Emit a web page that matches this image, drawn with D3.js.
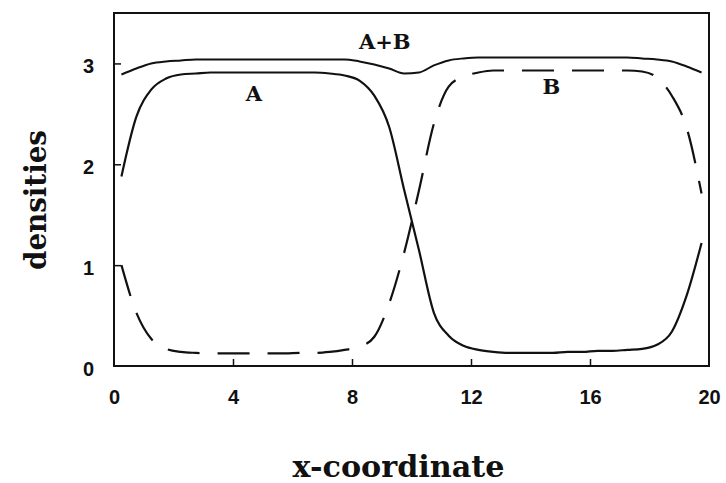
<!DOCTYPE html>
<html>
<head>
<meta charset="utf-8">
<script src="https://cdn.jsdelivr.net/npm/d3@7/dist/d3.min.js"></script>
<style>
  html, body { margin: 0; padding: 0; background: #fff; }
  svg { display: block; }
</style>
</head>
<body>
<svg id="chart" width="726" height="483"></svg>
<script>
// Sample positions along the domain (cell centres)
const xs = [0.25, 0.75, 1.25, 1.75, 2.25, 2.75, 3.25, 3.75, 4.25, 4.75,
            5.25, 5.75, 6.25, 6.75, 7.25, 7.75, 8.25, 8.75, 9.25, 9.75,
            10.25, 10.75, 11.25, 11.75, 12.25, 12.75, 13.25, 13.75, 14.25, 14.75,
            15.25, 15.75, 16.25, 16.75, 17.25, 17.75, 18.25, 18.75, 19.25, 19.75];

// Density of species A (solid)
const densityA = [1.88, 2.47, 2.74, 2.85, 2.89, 2.90, 2.91, 2.91, 2.91, 2.91,
                  2.91, 2.91, 2.91, 2.91, 2.90, 2.88, 2.83, 2.68, 2.37, 1.75,
                  1.15, 0.53, 0.30, 0.20, 0.16, 0.14, 0.13, 0.13, 0.13, 0.13,
                  0.14, 0.14, 0.15, 0.15, 0.16, 0.17, 0.21, 0.34, 0.70, 1.22];

// Density of species B (dashed)
const densityB = [1.00, 0.53, 0.27, 0.17, 0.14, 0.13, 0.125, 0.125, 0.125, 0.125,
                  0.125, 0.125, 0.13, 0.13, 0.14, 0.16, 0.19, 0.29, 0.62, 1.12,
                  1.74, 2.40, 2.77, 2.87, 2.91, 2.93, 2.93, 2.93, 2.93, 2.93,
                  2.93, 2.93, 2.93, 2.93, 2.93, 2.92, 2.86, 2.68, 2.36, 1.71];

// Total density A+B (solid)
const densityTotal = [2.89, 2.95, 3.00, 3.02, 3.03, 3.04, 3.04, 3.04, 3.04, 3.04,
                      3.04, 3.04, 3.04, 3.04, 3.04, 3.04, 3.02, 2.99, 2.95, 2.90,
                      2.91, 2.98, 3.03, 3.05, 3.06, 3.06, 3.06, 3.06, 3.06, 3.06,
                      3.06, 3.06, 3.06, 3.06, 3.06, 3.05, 3.04, 3.02, 2.97, 2.91];

const xTicks = [0, 4, 8, 12, 16, 20];
const yTicks = [0, 1, 2, 3];

const curveLabels = [
  { text: "A+B", x: 9.1, y: 3.22 },
  { text: "A",   x: 4.7, y: 2.70 },
  { text: "B",   x: 14.7, y: 2.77 }
];

const ink = "#111";
const svg = d3.select("#chart");

const plot = { left: 114, right: 709, top: 13, bottom: 366 };

const x = d3.scaleLinear().domain([0, 20]).range([plot.left, plot.right]);
const y = d3.scaleLinear().domain([0, 3.5]).range([plot.bottom, plot.top]);

// Frame
svg.append("rect")
  .attr("x", plot.left).attr("y", plot.top)
  .attr("width", plot.right - plot.left).attr("height", plot.bottom - plot.top)
  .attr("fill", "none").attr("stroke", ink).attr("stroke-width", 2);

// Bottom axis: inward ticks, labels below
const xAxis = d3.axisBottom(x).tickValues(xTicks).tickSize(-7).tickPadding(24)
  .tickFormat(d3.format("d"));
const gx = svg.append("g").attr("transform", `translate(0,${plot.bottom})`).call(xAxis);
gx.select(".domain").remove();
gx.selectAll(".tick line").attr("stroke", ink).attr("stroke-width", 1.5)
  .filter(d => d === 0 || d === 20).remove();
gx.selectAll(".tick text")
  .attr("fill", ink)
  .style("font-family", "'Liberation Sans', Arial, sans-serif")
  .style("font-weight", "bold")
  .style("font-size", "20px");

// Left axis: inward ticks, labels to the left
const yAxis = d3.axisLeft(y).tickValues(yTicks).tickSize(-7).tickPadding(20)
  .tickFormat(d3.format("d"));
const gy = svg.append("g").attr("transform", `translate(${plot.left},0)`).call(yAxis);
gy.select(".domain").remove();
gy.selectAll(".tick line").attr("stroke", ink).attr("stroke-width", 1.5)
  .filter(d => d === 0).remove();
gy.selectAll(".tick text")
  .attr("fill", ink)
  .attr("dy", "0.45em")
  .style("font-family", "'Liberation Sans', Arial, sans-serif")
  .style("font-weight", "bold")
  .style("font-size", "20px");

// Axis titles
svg.append("text")
  .attr("x", 398.5).attr("y", 477)
  .attr("text-anchor", "middle")
  .attr("fill", ink)
  .attr("textLength", 212)
  .attr("lengthAdjust", "spacingAndGlyphs")
  .style("font-family", "'DejaVu Serif', serif")
  .style("font-weight", "bold")
  .style("font-size", "29px")
  .text("x-coordinate");

svg.append("text")
  .attr("transform", "translate(46,200) rotate(-90)")
  .attr("text-anchor", "middle")
  .attr("fill", ink)
  .attr("textLength", 140)
  .attr("lengthAdjust", "spacingAndGlyphs")
  .style("font-family", "'DejaVu Serif', serif")
  .style("font-weight", "bold")
  .style("font-size", "29px")
  .text("densities");

// Curves
const line = (vals) => d3.line()
  .x((d, i) => x(xs[i]))
  .y(d => y(d))
  .curve(d3.curveMonotoneX)(vals);

svg.append("path").attr("d", line(densityTotal))
  .attr("fill", "none").attr("stroke", ink).attr("stroke-width", 2);
svg.append("path").attr("d", line(densityA))
  .attr("fill", "none").attr("stroke", ink).attr("stroke-width", 2.2);
svg.append("path").attr("d", line(densityB))
  .attr("fill", "none").attr("stroke", ink).attr("stroke-width", 2.2)
  .attr("stroke-dasharray", "32,18");

// Curve labels
svg.selectAll(".curve-label").data(curveLabels).enter().append("text")
  .attr("class", "curve-label")
  .attr("x", d => x(d.x)).attr("y", d => y(d.y))
  .attr("text-anchor", "middle")
  .attr("dy", "0.35em")
  .attr("fill", ink)
  .style("font-family", "'DejaVu Serif', serif")
  .style("font-weight", "bold")
  .style("font-size", "21px")
  .text(d => d.text);
</script>
</body>
</html>
